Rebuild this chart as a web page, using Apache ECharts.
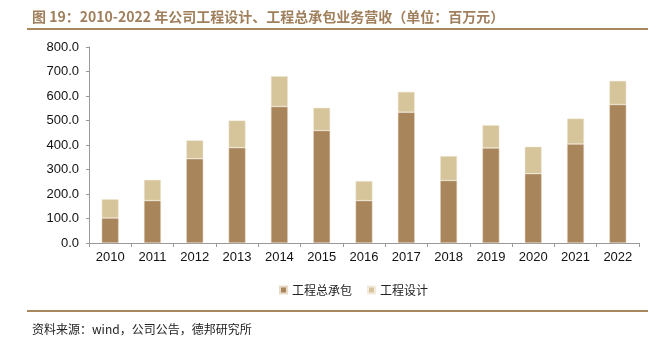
<!DOCTYPE html>
<html><head><meta charset="utf-8">
<script src="https://cdn.jsdelivr.net/npm/echarts@6/dist/echarts.min.js"></script>
<style>html,body{margin:0;padding:0;background:#fff}
#wrap{position:relative;width:659px;height:354px}
#c{width:659px;height:354px}
.rule{position:absolute;left:27px;width:621px;height:2px;background:#A8875F;z-index:5}
</style>
</head><body><div id="wrap"><div id="c"></div>
<div class="rule" style="top:28px"></div><div class="rule" style="top:310px"></div></div>
<script>
const categories = ['2010','2011','2012','2013','2014','2015','2016','2017','2018','2019','2020','2021','2022'];
const contracting = [102,173,344,389,557,459,173,534,255,388,283,404,565];
const design = [77,85,75,111,124,93,80,83,100,93,110,104,97];
const seriesNames = ['工程总承包','工程设计'];
const chart = echarts.init(document.getElementById('c'));
const font = '"Liberation Sans", Arial, sans-serif';
const cjk = '"Noto Sans CJK SC", sans-serif';
chart.setOption({
  animation:false,
  title:[{text:'图 19：2010-2022 年公司工程设计、工程总承包业务营收（单位：百万元）',left:27,top:5,
    textStyle:{fontSize:14,fontWeight:'bold',color:'#A07F5C',fontFamily:cjk}},
    {text:'资料来源：wind，公司公告，德邦研究所',left:27,top:318,
    textStyle:{fontSize:12,fontWeight:'normal',color:'#222',fontFamily:cjk}}],
  graphic:[
    {type:'line',shape:{x1:27,y1:29,x2:648,y2:29},style:{stroke:'#A8875F',lineWidth:2}},
    {type:'line',shape:{x1:27,y1:311,x2:648,y2:311},style:{stroke:'#A8875F',lineWidth:2}}
  ],
  legend:{data:seriesNames,top:279,left:274,itemWidth:7,itemHeight:7,itemGap:15,icon:'rect',
    textStyle:{fontSize:12,color:'#222',fontFamily:cjk}},
  grid:{left:89,right:20,top:47,bottom:111,containLabel:false},
  xAxis:{type:'category',data:categories,
    axisLine:{lineStyle:{color:'#999'}},axisTick:{show:true,length:4,lineStyle:{color:'#999'}},
    axisLabel:{fontSize:13,color:'#111',margin:8,fontFamily:font}},
  yAxis:{type:'value',min:0,max:800,interval:100,
    axisLine:{show:true,lineStyle:{color:'#999'}},axisTick:{show:true,length:3,lineStyle:{color:'#999'}},
    splitLine:{show:false},
    axisLabel:{fontSize:13,color:'#111',margin:10,fontFamily:font,formatter:v=>v.toFixed(1)}},
  series:[
    {name:seriesNames[0],type:'bar',stack:'a',data:contracting,barWidth:'40%',
      itemStyle:{color:'#A8855B',borderColor:'#E8DCC8',borderWidth:0.5}},
    {name:seriesNames[1],type:'bar',stack:'a',data:design,barWidth:'40%',
      itemStyle:{color:'#D6C59B',borderColor:'#F3ECDD',borderWidth:0.5}}
  ]
});
</script></body></html>
